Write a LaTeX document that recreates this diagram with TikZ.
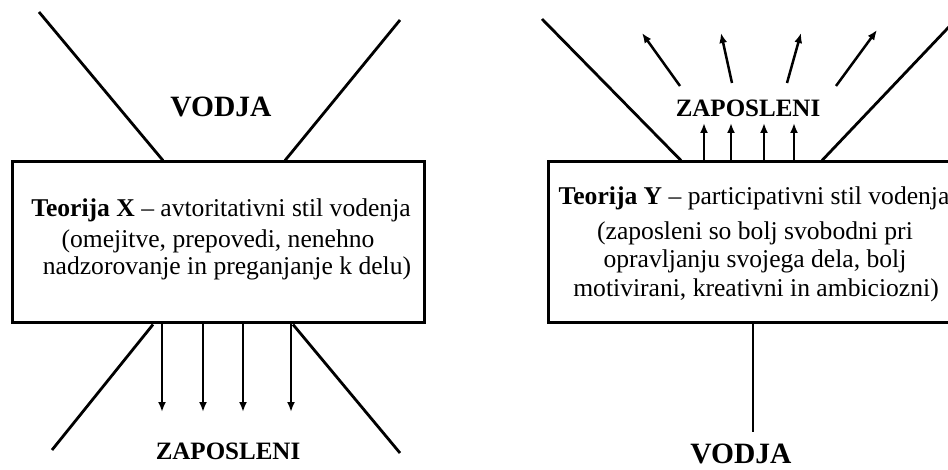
\documentclass[tikz,border=0pt]{standalone}
\usepackage{fontspec}
\setmainfont{Liberation Serif}
\usetikzlibrary{arrows.meta}

\begin{document}
\begin{tikzpicture}[x=1pt,y=-1pt,
    line/.style={line width=2.8pt},
    frame/.style={draw, line width=3pt, rectangle, inner sep=0pt},
    arr/.style={line width=2.5pt, -{Latex[length=10pt,width=8pt]}},
    body/.style={anchor=base, inner sep=0pt, font=\fontsize{25.6}{28}\selectfont},
    head/.style={anchor=base, inner sep=0pt, font=\fontsize{25}{28}\selectfont\bfseries},
    lead/.style={anchor=base, inner sep=0pt, font=\fontsize{29.5}{32}\selectfont\bfseries}]
  \clip (0,0) rectangle (948,470);
  \fill[white] (0,0) rectangle (948,470);

  % ---------------- Theory X ----------------
  \node[frame, minimum width=412pt, minimum height=161pt] (boxX) at (218,242.5) {};
  \node[body] (tX1) at (221,217) {\textbf{Teorija X} – avtoritativni stil vodenja};
  \node[body] (tX2) at (218,248) {(omejitve, prepovedi, nenehno};
  \node[body] (tX3) at (227,275) {nadzorovanje in preganjanje k delu)};

  \node[lead] (vodjaX) at (221,117) {VODJA};
  \node[head] (zapX) at (228,459) {ZAPOSLENI};

  % funnel above the box
  \coordinate (xTL) at (39,12);
  \coordinate (xTR) at (400,20);
  \draw[line] (boxX.north -| 163,0) -- (xTL);
  \draw[line] (boxX.north -| 285,0) -- (xTR);
  % funnel below the box
  \coordinate (xBL) at (52,450);
  \coordinate (xBR) at (400,453);
  \draw[line] (boxX.south -| 153,0) -- (xBL);
  \draw[line] (boxX.south -| 293,0) -- (xBR);
  % orders passed down
  \foreach \i/\px in {1/162,2/203,3/243,4/291}{
    \coordinate (xd\i) at (\px,412);
    \draw[arr] (boxX.south -| xd\i) -- (xd\i);
  }

  % ---------------- Theory Y ----------------
  \node[frame, minimum width=410pt, minimum height=161pt] (boxY) at (753,242.5) {};
  \node[body] (tY1) at (754,205) {\textbf{Teorija Y} – participativni stil vodenja};
  \node[body] (tY2) at (755,240) {(zaposleni so bolj svobodni pri};
  \node[body] (tY3) at (755,268) {opravljanju svojega dela, bolj};
  \node[body] (tY4) at (756,297) {motivirani, kreativni in ambiciozni)};

  \node[head] (zapY) at (748,117) {ZAPOSLENI};
  \node[lead] (vodjaY) at (741,463) {VODJA};

  % open funnel above the box
  \coordinate (yTL) at (542,19);
  \coordinate (yTR) at (955.5,20);
  \draw[line] (boxY.north -| 681,0) -- (yTL);
  \draw[line] (boxY.north -| 822,0) -- (yTR);
  % employees pushing upward
  \foreach \i/\px in {1/704,2/731,3/764,4/794}{
    \coordinate (yu\i) at (\px,123);
    \draw[arr] (boxY.north -| yu\i) -- (yu\i);
  }
  % spreading outward above the label
  \coordinate (ys1) at (680,86);  \coordinate (ye1) at (642,33);
  \coordinate (ys2) at (732,83);  \coordinate (ye2) at (721,33);
  \coordinate (ys3) at (787,83);  \coordinate (ye3) at (801,33);
  \coordinate (ys4) at (836,86);  \coordinate (ye4) at (877,30);
  \foreach \i in {1,...,4}{
    \draw[arr] (ys\i) -- (ye\i);
  }
  % leader support from below
  \coordinate (yLead) at (753,432);
  \draw[line] (boxY.south) -- (yLead);
\end{tikzpicture}
\end{document}
